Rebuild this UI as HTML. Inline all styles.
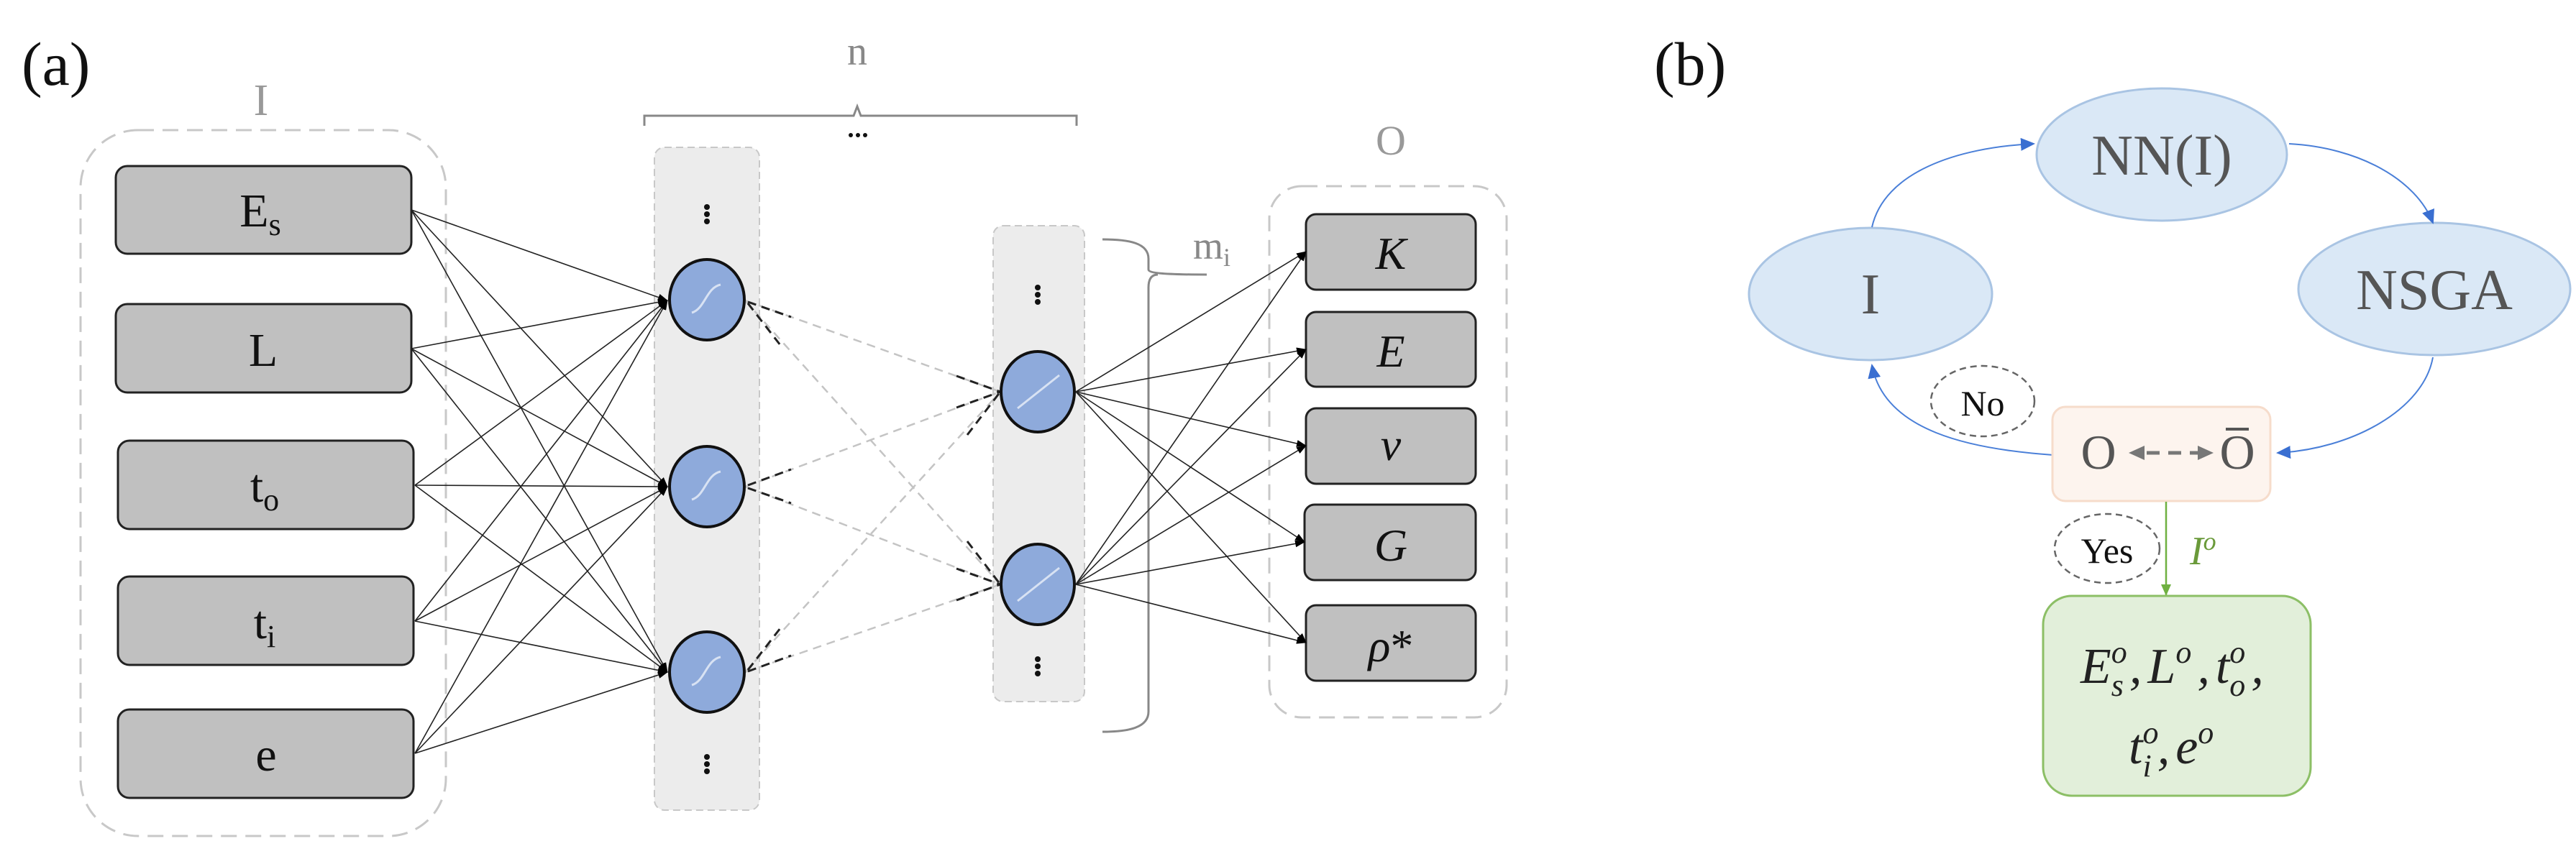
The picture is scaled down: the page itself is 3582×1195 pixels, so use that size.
<!DOCTYPE html>
<html><head><meta charset="utf-8"><style>
html,body{margin:0;padding:0;background:#fff;}
svg{display:block;font-family:"Liberation Serif","DejaVu Serif",serif;}
svg text{font-family:"Liberation Serif","DejaVu Serif",serif !important;}
</style></head><body>
<svg width="3582" height="1195" viewBox="0 0 3582 1195" xmlns="http://www.w3.org/2000/svg" font-family="'Liberation Serif', serif">
<defs>
<marker id="ab" markerWidth="14" markerHeight="10" refX="13" refY="5" orient="auto" markerUnits="userSpaceOnUse" viewBox="0 0 14 10"><path d="M0,0 L14,5 L0,10 z" fill="#000"/></marker>
<marker id="bl" markerWidth="20" markerHeight="18" refX="18" refY="9" orient="auto" markerUnits="userSpaceOnUse"><path d="M0,0 L20,9 L0,18 z" fill="#3a6fd1"/></marker>
<marker id="gr" markerWidth="16" markerHeight="14" refX="15" refY="7" orient="auto" markerUnits="userSpaceOnUse"><path d="M0,0 L16,7 L0,14 z" fill="#6fb041"/></marker>
</defs>

<!-- (a) -->
<text x="30" y="118" font-size="86" fill="#111">(a)</text>
<text x="363" y="160" font-size="62" fill="#999" text-anchor="middle">I</text>
<rect x="112" y="181" width="508" height="982" rx="80" fill="none" stroke="#c8c8c8" stroke-width="3" stroke-dasharray="22 12"/>

<rect x="910" y="205" width="146" height="922" rx="14" fill="#ececec" stroke="#c8c8c8" stroke-width="2" stroke-dasharray="10 6"/>
<rect x="1381" y="314" width="127" height="662" rx="14" fill="#ececec" stroke="#c8c8c8" stroke-width="2" stroke-dasharray="10 6"/>

<g fill="#c0c0c0" stroke="#222" stroke-width="3">
<rect x="161" y="231" width="411" height="122" rx="16"/>
<rect x="161" y="423" width="411" height="123" rx="16"/>
<rect x="164" y="613" width="411" height="123" rx="16"/>
<rect x="164" y="802" width="411" height="123" rx="16"/>
<rect x="164" y="987" width="411" height="123" rx="16"/>
</g>
<g font-size="66" fill="#111" text-anchor="middle">
<text x="362" y="315">E<tspan font-size="44" dy="12">s</tspan></text>
<text x="366" y="509">L</text>
<text x="368" y="698">t<tspan font-size="44" dy="12">o</tspan></text>
<text x="368" y="888">t<tspan font-size="44" dy="12">i</tspan></text>
<text x="370" y="1072">e</text>
</g>

<g stroke="#222" stroke-width="1.6" marker-end="url(#ab)">
<line x1="572" y1="292" x2="928" y2="418"/><line x1="572" y1="292" x2="928" y2="677"/><line x1="572" y1="292" x2="928" y2="935"/>
<line x1="572" y1="485" x2="928" y2="418"/><line x1="572" y1="485" x2="928" y2="677"/><line x1="572" y1="485" x2="928" y2="935"/>
<line x1="577" y1="675" x2="928" y2="418"/><line x1="577" y1="675" x2="928" y2="677"/><line x1="577" y1="675" x2="928" y2="935"/>
<line x1="577" y1="864" x2="928" y2="418"/><line x1="577" y1="864" x2="928" y2="677"/><line x1="577" y1="864" x2="928" y2="935"/>
<line x1="577" y1="1048" x2="928" y2="418"/><line x1="577" y1="1048" x2="928" y2="677"/><line x1="577" y1="1048" x2="928" y2="935"/>
</g>

<g stroke="#c4c4c4" stroke-width="2.5" stroke-dasharray="12 8" fill="none">
<line x1="1036" y1="418" x2="1391" y2="545"/><line x1="1036" y1="418" x2="1391" y2="813"/>
<line x1="1036" y1="677" x2="1391" y2="545"/><line x1="1036" y1="677" x2="1391" y2="813"/>
<line x1="1036" y1="935" x2="1391" y2="545"/><line x1="1036" y1="935" x2="1391" y2="813"/>
</g>
<g stroke="#222" stroke-width="3" stroke-dasharray="12 8" fill="none">
<line x1="1040" y1="420" x2="1100" y2="441"/><line x1="1040" y1="422" x2="1085" y2="480"/>
<line x1="1040" y1="675" x2="1100" y2="653"/><line x1="1040" y1="679" x2="1100" y2="700"/>
<line x1="1040" y1="932" x2="1085" y2="874"/><line x1="1040" y1="934" x2="1100" y2="912"/>
<line x1="1330" y1="523" x2="1391" y2="545"/><line x1="1330" y1="567" x2="1391" y2="545"/><line x1="1345" y1="605" x2="1391" y2="545"/>
<line x1="1345" y1="753" x2="1391" y2="813"/><line x1="1330" y1="791" x2="1391" y2="813"/><line x1="1330" y1="835" x2="1391" y2="813"/>
</g>

<g fill="#8eaadb" stroke="#111" stroke-width="4">
<ellipse cx="983" cy="417" rx="52" ry="56"/>
<ellipse cx="983" cy="677" rx="52" ry="56"/>
<ellipse cx="983" cy="935" rx="52" ry="56"/>
<ellipse cx="1443" cy="545" rx="51" ry="56"/>
<ellipse cx="1443" cy="813" rx="51" ry="56"/>
</g>
<g stroke="#d8e2f3" stroke-width="3" fill="none">
<path d="M962,435 C980,430 982,400 1002,396"/>
<path d="M962,695 C980,690 982,660 1002,656"/>
<path d="M962,953 C980,948 982,918 1002,914"/>
<line x1="1415" y1="568" x2="1473" y2="522"/>
<line x1="1415" y1="836" x2="1473" y2="790"/>
</g>

<g fill="#111">
<circle cx="983" cy="288" r="4"/><circle cx="983" cy="298" r="4"/><circle cx="983" cy="308" r="4"/>
<circle cx="983" cy="1053" r="4"/><circle cx="983" cy="1063" r="4"/><circle cx="983" cy="1073" r="4"/>
<circle cx="1443" cy="400" r="4"/><circle cx="1443" cy="410" r="4"/><circle cx="1443" cy="420" r="4"/>
<circle cx="1443" cy="917" r="4"/><circle cx="1443" cy="927" r="4"/><circle cx="1443" cy="937" r="4"/>
<circle cx="1183" cy="188" r="3"/><circle cx="1193" cy="188" r="3"/><circle cx="1203" cy="188" r="3"/>
</g>

<path d="M896,175 L896,161 L1187,161 L1192,148 L1197,161 L1497,161 L1497,175" fill="none" stroke="#888" stroke-width="3"/>
<text x="1192" y="90" font-size="56" fill="#888" text-anchor="middle">n</text>

<path d="M1533,333 C1570,333 1597,338 1597,360 L1597,375 C1597,380 1620,382 1678,382 M1610,382 C1600,382 1597,390 1597,400 L1597,990 C1597,1012 1570,1018 1533,1018" fill="none" stroke="#888" stroke-width="3"/>
<text x="1659" y="360" font-size="54" fill="#888">m<tspan font-size="36" dy="10">i</tspan></text>

<text x="1934" y="215" font-size="58" fill="#999" text-anchor="middle">O</text>
<rect x="1765" y="259" width="330" height="739" rx="45" fill="none" stroke="#c8c8c8" stroke-width="3" stroke-dasharray="22 12"/>
<g fill="#c0c0c0" stroke="#222" stroke-width="3">
<rect x="1816" y="298" width="236" height="105" rx="14"/>
<rect x="1816" y="434" width="236" height="104" rx="14"/>
<rect x="1816" y="568" width="236" height="105" rx="14"/>
<rect x="1814" y="702" width="238" height="105" rx="14"/>
<rect x="1816" y="842" width="236" height="105" rx="14"/>
</g>
<g font-size="64" fill="#111" text-anchor="middle" font-style="italic">
<text x="1934" y="374">K</text>
<text x="1934" y="510">E</text>
<text x="1934" y="640">ν</text>
<text x="1934" y="780">G</text>
<text x="1934" y="920">ρ<tspan font-style="normal">*</tspan></text>
</g>

<g stroke="#222" stroke-width="1.6" marker-end="url(#ab)">
<line x1="1496" y1="545" x2="1816" y2="350"/><line x1="1496" y1="545" x2="1816" y2="486"/><line x1="1496" y1="545" x2="1816" y2="620"/><line x1="1496" y1="545" x2="1814" y2="754"/><line x1="1496" y1="545" x2="1816" y2="894"/>
<line x1="1496" y1="813" x2="1816" y2="350"/><line x1="1496" y1="813" x2="1816" y2="486"/><line x1="1496" y1="813" x2="1816" y2="620"/><line x1="1496" y1="813" x2="1814" y2="754"/><line x1="1496" y1="813" x2="1816" y2="894"/>
</g>

<!-- (b) -->
<text x="2300" y="118" font-size="86" fill="#111">(b)</text>
<g fill="#dae8f6" stroke="#a9c4e3" stroke-width="3">
<ellipse cx="3006" cy="215" rx="174" ry="92"/>
<ellipse cx="2601" cy="409" rx="169" ry="92"/>
<ellipse cx="3385" cy="402" rx="189" ry="92"/>
</g>
<g font-size="80" fill="#555" text-anchor="middle">
<text x="3006" y="243">NN(I)</text>
<text x="2601" y="436">I</text>
<text x="3385" y="430">NSGA</text>
</g>
<g stroke="#4a7fd8" stroke-width="2" fill="none" marker-end="url(#bl)">
<path d="M2603,316 C2620,240 2720,205 2828,200"/>
<path d="M3183,200 C3280,205 3360,250 3383,310"/>
<path d="M3383,497 C3370,570 3270,625 3167,630"/>
<path d="M2855,633 C2740,625 2620,600 2603,508"/>
</g>
<rect x="2854" y="566" width="303" height="131" rx="18" fill="#fdf4ee" stroke="#f6dccb" stroke-width="3"/>
<g font-size="68" fill="#555" text-anchor="middle">
<text x="2918" y="652">O</text>
<text x="3111" y="652">O</text>
</g>
<line x1="3095" y1="597" x2="3127" y2="597" stroke="#555" stroke-width="4"/>
<line x1="2985" y1="630" x2="3064" y2="630" stroke="#777" stroke-width="5" stroke-dasharray="18 12"/>
<path d="M2960,630 L2982,620 L2982,640 z" fill="#777"/>
<path d="M3078,630 L3056,620 L3056,640 z" fill="#777"/>

<ellipse cx="2757" cy="558" rx="72" ry="49" fill="none" stroke="#666" stroke-width="2.5" stroke-dasharray="9 6"/>
<text x="2757" y="578" font-size="50" fill="#111" text-anchor="middle">No</text>
<ellipse cx="2930" cy="763" rx="73" ry="48" fill="none" stroke="#666" stroke-width="2.5" stroke-dasharray="9 6"/>
<text x="2930" y="783" font-size="50" fill="#111" text-anchor="middle">Yes</text>

<line x1="3012" y1="698" x2="3012" y2="828" stroke="#6fb041" stroke-width="2.5" marker-end="url(#gr)"/>
<text x="3045" y="785" font-size="56" fill="#6a9a3a" font-style="italic">I<tspan font-size="36" dy="-20">o</tspan></text>

<rect x="2841" y="829" width="372" height="278" rx="40" fill="#e2efda" stroke="#8cbf66" stroke-width="3"/>
<g font-size="70" fill="#222" font-style="italic">
<text x="2893" y="950">E<tspan font-size="44" dy="-28">o</tspan><tspan font-size="44" dx="-22" dy="46">s</tspan><tspan dx="8" dy="-18">,</tspan><tspan dx="8">L</tspan><tspan font-size="44" dy="-28">o</tspan><tspan dx="8" dy="28">,</tspan><tspan dx="8">t</tspan><tspan font-size="44" dy="-28">o</tspan><tspan font-size="44" dx="-22" dy="46">o</tspan><tspan dx="8" dy="-18">,</tspan></text>
<text x="2960" y="1062">t<tspan font-size="44" dy="-28">o</tspan><tspan font-size="44" dx="-22" dy="46">i</tspan><tspan dx="8" dy="-18">,</tspan><tspan dx="8">e</tspan><tspan font-size="44" dy="-28">o</tspan></text>
</g>
</svg>
</body></html>
